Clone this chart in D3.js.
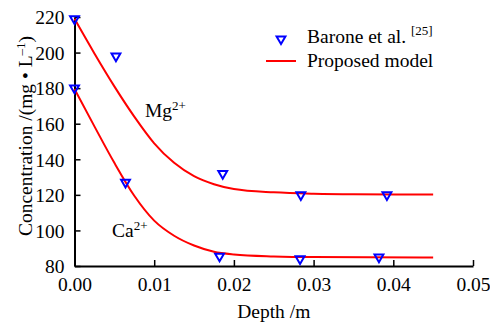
<!DOCTYPE html>
<html>
<head>
<meta charset="utf-8">
<script src="https://cdn.jsdelivr.net/npm/d3@7"></script>
<style>
  body { margin: 0; background: #fff; }
  svg text { font-family: "Liberation Serif", "DejaVu Serif", "Times New Roman", serif; fill: #000; }
</style>
</head>
<body>
<svg id="chart" width="490" height="327"></svg>
<script>
// measured points (Barone et al.)
const expDepthMg = [0.0, 0.0052, 0.0186, 0.0284, 0.0392];
const expMg = [219, 198, 132, 120, 120];
const expDepthCa = [0.0, 0.0064, 0.0182, 0.0283, 0.0382];
const expCa = [180, 127, 85.5, 84, 85];

// model curves
const modelDepthMg = [0, 0.0025, 0.005, 0.0075, 0.01, 0.0125, 0.015, 0.0175, 0.02, 0.025, 0.03, 0.035, 0.045];
const modelMg = [219, 199.5, 181, 164, 149, 138, 130.5, 126, 123.3, 121.4, 120.6, 120.3, 120.2];
const modelDepthCa = [0, 0.0025, 0.005, 0.0075, 0.01, 0.0125, 0.015, 0.0175, 0.02, 0.025, 0.03, 0.045];
const modelCa = [179.5, 158.5, 138, 119.5, 105.5, 97, 91.5, 88, 86.5, 85.4, 85, 84.8];

const xTicks = [0, 0.01, 0.02, 0.03, 0.04, 0.05];
const yTicks = [80, 100, 120, 140, 160, 180, 200, 220];

const svg = d3.select("#chart");
const fs = 19.5;
const serif = '"Liberation Serif", "DejaVu Serif", "Times New Roman", serif';

const x = d3.scaleLinear().domain([0, 0.05]).range([74.5, 473]);
const y = d3.scaleLinear().domain([80, 220]).range([266, 17]);

// axes (ticks point inward)
const xAxis = svg.append("g")
  .attr("transform", "translate(0," + y(80) + ")")
  .call(d3.axisBottom(x).tickValues(xTicks).tickFormat(d3.format(".2f"))
    .tickSizeInner(-6).tickSizeOuter(0).tickPadding(10));
const yAxis = svg.append("g")
  .attr("transform", "translate(" + x(0) + ",0)")
  .call(d3.axisLeft(y).tickValues(yTicks).tickSizeInner(-6).tickSizeOuter(0).tickPadding(10));

[xAxis, yAxis].forEach(g => {
  g.attr("font-family", serif).attr("font-size", fs);
  g.select(".domain").attr("stroke", "#000").attr("stroke-width", 2);
  g.selectAll(".tick line").attr("stroke", "#000").attr("stroke-width", 1.5);
  g.selectAll(".tick text").attr("fill", "#000");
});
xAxis.selectAll(".tick text").attr("dy", "0.75em");
yAxis.selectAll(".tick text").attr("dy", "0.35em");

// model lines
const line = d3.line().x(d => x(d[0])).y(d => y(d[1])).curve(d3.curveMonotoneX);
svg.append("path")
  .datum(modelDepthMg.map((d, i) => [d, modelMg[i]]))
  .attr("d", line).attr("fill", "none").attr("stroke", "#ff0000").attr("stroke-width", 2);
svg.append("path")
  .datum(modelDepthCa.map((d, i) => [d, modelCa[i]]))
  .attr("d", line).attr("fill", "none").attr("stroke", "#ff0000").attr("stroke-width", 2);

// triangle markers
const tri = d3.symbol().type(d3.symbolTriangle).size(34);
const pts = expDepthMg.map((d, i) => [d, expMg[i]])
  .concat(expDepthCa.map((d, i) => [d, expCa[i]]));
svg.selectAll(".pt").data(pts).enter().append("path")
  .attr("class", "pt")
  .attr("d", tri)
  .attr("transform", d => "translate(" + x(d[0]) + "," + y(d[1]) + ") rotate(180)")
  .attr("fill", "none").attr("stroke", "#0000ff").attr("stroke-width", 2);

// legend
svg.append("path").attr("d", tri)
  .attr("transform", "translate(281,39) rotate(180)")
  .attr("fill", "none").attr("stroke", "#0000ff").attr("stroke-width", 2);
const lt = svg.append("text").attr("x", 307).attr("y", 43).attr("font-size", fs);
lt.append("tspan").text("Barone et al. ");
lt.append("tspan").attr("dy", -8).attr("font-size", 13).text("[25]");
svg.append("line").attr("x1", 266).attr("x2", 296).attr("y1", 61).attr("y2", 61)
  .attr("stroke", "#ff0000").attr("stroke-width", 2);
svg.append("text").attr("x", 307).attr("y", 67).attr("font-size", fs).text("Proposed model");

// ion labels
function ion(px, py, base) {
  const t = svg.append("text").attr("x", px).attr("y", py).attr("font-size", fs);
  t.append("tspan").text(base);
  t.append("tspan").attr("dy", -7).attr("font-size", 13).text("2+");
}
ion(145, 117, "Mg");
ion(112, 237, "Ca");

// axis titles
svg.append("text").attr("x", x(0.025)).attr("y", 318)
  .attr("text-anchor", "middle").attr("font-size", fs).text("Depth /m");
const yt = svg.append("text")
  .attr("transform", "translate(32,136) rotate(-90)")
  .attr("text-anchor", "middle").attr("font-size", fs);
yt.append("tspan").text("Concentration /(mg • L");
yt.append("tspan").attr("dy", -7).attr("font-size", 13).text("–1");
yt.append("tspan").attr("dy", 7).text(")");
</script>
</body>
</html>
